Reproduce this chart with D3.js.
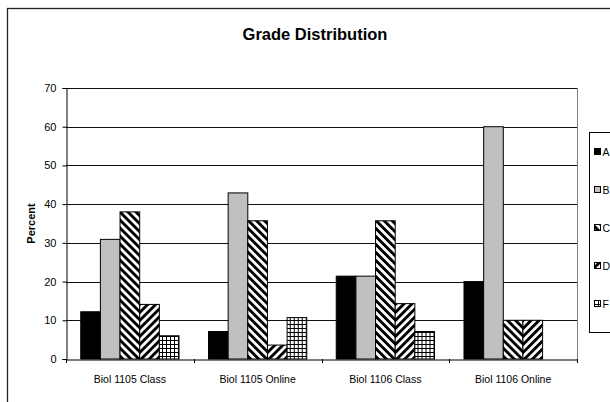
<!DOCTYPE html>
<html><head><meta charset="utf-8">
<script src="https://cdn.jsdelivr.net/npm/d3@7"></script>
<style>
html,body{margin:0;padding:0;background:#fff;}
text{font-family:"Liberation Sans",Arial,sans-serif;}
</style></head>
<body><svg id="c" width="610" height="402"></svg>
<script>
const categories = ["Biol 1105 Class","Biol 1105 Online","Biol 1106 Class","Biol 1106 Online"];
const grades = ["A","B","C","D","F"];
const gradeA = [12.2, 7.1, 21.4, 20.0];
const gradeB = [30.9, 42.9, 21.4, 60.0];
const gradeC = [38.0, 35.7, 35.7, 10.0];
const gradeD = [14.1, 3.6, 14.3, 10.0];
const gradeF = [6.0, 10.7, 7.1, 0];
const yTicks = [0,10,20,30,40,50,60,70];
const title = "Grade Distribution";
const yTitle = "Percent";

const series = {A:gradeA,B:gradeB,C:gradeC,D:gradeD,F:gradeF};
const svg = d3.select("#c");
svg.append("rect").attr("width",610).attr("height",402).attr("fill","#fff");

// patterns
const defs = svg.append("defs");
function stripe(id, angle){
  const p = defs.append("pattern").attr("id",id).attr("patternUnits","userSpaceOnUse")
    .attr("width",5.66).attr("height",5.66).attr("patternTransform",`rotate(${angle})`);
  p.append("rect").attr("width",5.66).attr("height",5.66).attr("fill","#fff");
  p.append("rect").attr("width",2.9).attr("height",5.66).attr("fill","#000");
}
stripe("patC",-45);
stripe("patD",45);
const g4 = defs.append("pattern").attr("id","patF").attr("patternUnits","userSpaceOnUse")
  .attr("width",4).attr("height",4);
g4.append("rect").attr("width",4).attr("height",4).attr("fill","#fff");
g4.append("rect").attr("width",1).attr("height",4).attr("fill","#000");
g4.append("rect").attr("width",4).attr("height",1).attr("fill","#000");
const fills = {A:"#000",B:"#c0c0c0",C:"url(#patC)",D:"url(#patD)",F:"url(#patF)"};

// outer border
svg.append("rect").attr("x",7.5).attr("y",8.5).attr("width",640).attr("height",420)
  .attr("fill","none").attr("stroke","#222").attr("stroke-width",1.3);

svg.append("text").attr("x",315).attr("y",40).attr("text-anchor","middle")
  .attr("font-size",16.5).attr("font-weight","bold").text(title);

const L=66,R=577,T=88,B=359;
const x0 = d3.scaleBand().domain(categories).range([L,R]).padding(0);
const x1 = d3.scaleBand().domain(grades).range([0,x0.bandwidth()]).paddingInner(0).paddingOuter(0.75);
const y = d3.scaleLinear().domain([0,70]).range([B,T]);

// gridlines
svg.append("g").selectAll("line").data(yTicks.filter(d=>d>0)).join("line")
  .attr("x1",L).attr("x2",R).attr("y1",d=>Math.round(y(d))+0.5).attr("y2",d=>Math.round(y(d))+0.5)
  .attr("stroke","#111").attr("stroke-width",1);
// plot right border
svg.append("line").attr("x1",R+0.5).attr("x2",R+0.5).attr("y1",T).attr("y2",B).attr("stroke","#808080");

// bars
const gg = svg.append("g").selectAll("g").data(categories).join("g")
  .attr("transform",d=>`translate(${x0(d)},0)`);
gg.selectAll("rect").data((c,i)=>grades.map(g=>({g,v:series[g][i]})).filter(d=>d.v>0)).join("rect")
  .attr("x",d=>x1(d.g)).attr("width",x1.bandwidth())
  .attr("y",d=>y(d.v)).attr("height",d=>B-y(d.v))
  .attr("fill",d=>fills[d.g]).attr("stroke","#000").attr("stroke-width",1);

// axes
const ya = d3.axisLeft(y).tickValues(yTicks).tickSize(4).tickPadding(6);
const yg = svg.append("g").attr("transform",`translate(${L+0.5},0)`).call(ya);
yg.select(".domain").attr("stroke","#000");
yg.selectAll(".tick line").attr("stroke","#000");
yg.selectAll("text").attr("font-size",11).attr("font-family","Liberation Sans, Arial, sans-serif").attr("fill","#000");

const xa = d3.axisBottom(x0).tickSize(0).tickPadding(16);
const xg = svg.append("g").attr("transform",`translate(0,${B+0.5})`).call(xa);
xg.select(".domain").attr("stroke","#000");
xg.selectAll("text").attr("font-size",10.5).attr("font-family","Liberation Sans, Arial, sans-serif").attr("fill","#000");
svg.append("g").selectAll("line").data(categories.concat(["end"])).join("line")
  .attr("x1",(d,i)=>Math.round(L+i*x0.step())+0.5).attr("x2",(d,i)=>Math.round(L+i*x0.step())+0.5)
  .attr("y1",B).attr("y2",B+4).attr("stroke","#000");

svg.append("text").attr("transform",`translate(35,${(T+B)/2}) rotate(-90)`)
  .attr("text-anchor","middle").attr("font-size",11).attr("font-weight","bold").text(yTitle);

// legend
svg.append("rect").attr("x",589.5).attr("y",132.5).attr("width",40).attr("height",200)
  .attr("fill","#fff").attr("stroke","#000");
const ly = d3.scalePoint().domain(grades).range([152,304]);
const lg = svg.append("g").selectAll("g").data(grades).join("g")
  .attr("transform",d=>`translate(594,${ly(d)})`);
lg.append("rect").attr("x",0.5).attr("y",-3.5).attr("width",6).attr("height",6)
  .attr("fill",d=>fills[d]).attr("stroke","#000");
lg.append("text").attr("x",8.5).attr("y",4).attr("font-size",10.5).text(d=>d);
</script></body></html>
